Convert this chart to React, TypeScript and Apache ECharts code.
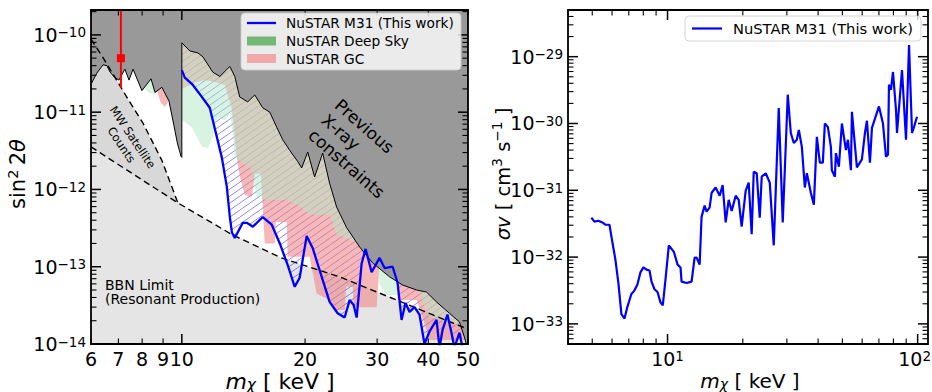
import React, { useEffect, useRef } from 'react';
import * as echarts from 'echarts';

const FONT = 'DejaVu Sans';

// ---------------- Left panel: sin^2(2theta) vs m_chi ----------------
// Previous X-ray constraints (upper boundary of allowed region)
const prevMass = [6.0, 6.2, 6.42, 6.56, 6.68, 6.86, 7.02, 7.26, 7.43, 7.6, 7.99, 8.41, 8.6, 8.94, 9.3, 9.55, 9.75, 9.95, 10.0, 10.0, 10.46, 10.94, 11.26, 11.9, 12.38, 13.1, 13.47, 13.85, 14.49, 15.07, 15.76, 16.4, 17.05, 17.64, 18.35, 19.19, 19.62, 20.3, 21.1, 22.08, 22.96, 23.89, 25.27, 27.18, 29.24, 32.17, 34.61, 37.44, 39.6, 41.89, 45.05, 47.66, 49.0, 49.5, 50];
const prevSin2 = [2.3e-11, 3.2e-11, 4.1e-11, 4.0e-11, 3.3e-11, 2.8e-11, 2.6e-11, 3.6e-11, 2.6e-11, 3.6e-11, 1.9e-11, 2.7e-11, 1.8e-11, 2.1e-11, 1.4e-11, 7.0e-12, 4.0e-12, 2.7e-12, 2.6e-12, 7.9e-11, 6.2e-11, 5.85e-11, 5.2e-11, 3.3e-11, 2.9e-11, 3.9e-11, 2.9e-11, 1.57e-11, 1.36e-11, 1.67e-11, 1.14e-11, 1.0e-11, 6.4e-12, 4.4e-12, 3.2e-12, 2.3e-12, 1.9e-12, 3.05e-12, 1.45e-12, 2.96e-12, 1.2e-12, 5.9e-13, 3.2e-13, 1.8e-13, 1.12e-13, 7.4e-14, 5.8e-14, 5.0e-14, 4.7e-14, 3.5e-14, 2.5e-14, 1.93e-14, 1.23e-14, 1.0e-14, 8e-15];

// MW satellite counts (dashed)
const mwMass = [6.0, 6.43, 6.93, 7.45, 8.04, 8.93, 9.79];
const mwSin2 = [8.8e-11, 5.0e-11, 2.6e-11, 1.37e-11, 7.2e-12, 2.4e-12, 6.6e-13];

// BBN limit (dashed)
const bbnMass = [6.0, 9.78, 13.3, 17.5, 24.3, 48.5, 50];
const bbnSin2 = [3.55e-12, 6.7e-13, 2.58e-13, 1.3e-13, 7.4e-14, 1.66e-14, 1.55e-14];

// NuSTAR Deep Sky (lower edge of excluded region)
const dsMass = [6.0, 7.8, 8.0, 8.12, 8.36, 8.6, 8.7, 8.85, 9.9, 10.0, 10.58, 11.19, 11.58, 11.9, 12.18, 12.73, 13.1, 13.32, 13.47, 14.25, 14.65, 14.91, 15.24, 15.67, 15.94, 18.04, 19.4, 20.52, 22.96, 23.89, 27.18, 30.0, 30.41, 31.5, 33.46, 33.65, 37.44, 38.72, 40.27, 45.05, 50];
const dsSin2 = [1.2e-10, 1.2e-10, 2.6e-11, 2.0e-11, 1.75e-11, 1.75e-11, 2.6e-11, 1.2e-10, 1.2e-10, 8.0e-12, 6.4e-12, 3.6e-12, 3.45e-12, 4.8e-12, 8.4e-12, 7.9e-12, 9.8e-12, 5.0e-12, 2.6e-12, 2.1e-12, 2.0e-12, 1.5e-12, 8.0e-13, 8.5e-13, 7.3e-13, 7.3e-13, 6.0e-13, 4.7e-13, 4.7e-13, 2.6e-13, 2.0e-13, 1.8e-13, 6.0e-14, 4.3e-14, 4.3e-14, 9.0e-14, 7.5e-14, 3.5e-14, 2.2e-14, 1.9e-14, 1.76e-14];

// NuSTAR GC (lower edge of excluded region)
const gcMass = [6.0, 8.45, 8.69, 8.89, 9.09, 9.3, 9.46, 9.6, 9.99, 10.0, 10.76, 11.38, 12.04, 12.73, 13.25, 13.62, 13.85, 14.25, 14.82, 15.1, 15.6, 15.94, 16.87, 16.96, 18.04, 18.14, 20.52, 21.34, 22.96, 23.89, 24.98, 25.2, 26.13, 26.3, 29.92, 30.41, 33.46, 33.65, 37.44, 38.72, 40.27, 50];
const gcSin2 = [1.2e-10, 1.2e-10, 1.9e-11, 1.32e-11, 1.17e-11, 1.44e-11, 4.7e-11, 1.2e-10, 1.2e-10, 2.0e-11, 2.4e-11, 2.6e-11, 2.45e-11, 2.25e-11, 1.1e-11, 2.6e-12, 1.5e-12, 8.5e-13, 8.0e-13, 1.6e-12, 1.6e-12, 2.0e-13, 2.0e-13, 3.8e-13, 3.8e-13, 1.35e-13, 1.35e-13, 4.5e-14, 3.7e-14, 2.75e-14, 2.75e-14, 5.5e-14, 5.5e-14, 3.0e-14, 3.0e-14, 1.1e-13, 1.1e-13, 3.7e-14, 3.7e-14, 2.24e-14, 1.13e-14, 1.13e-14];

// NuSTAR M31 (this work)
const m31Mass = [10.0, 10.17, 10.64, 11.19, 11.7, 12.52, 12.88, 13.1, 13.25, 13.47, 14.09, 14.41, 14.91, 15.76, 16.58, 17.35, 18.14, 18.87, 19.4, 20.18, 20.87, 21.96, 22.96, 24.02, 24.98, 25.7, 26.28, 26.73, 27.49, 28.11, 29.08, 30.41, 31.28, 32.72, 33.65, 34.41, 35.19, 35.99, 37.01, 38.06, 39.15, 40.27, 41.89, 42.6, 43.31, 44.54, 45.56, 46.33, 47.66, 48.47];
const m31Sin2 = [3.5e-11, 2.8e-11, 2.25e-11, 1.58e-11, 1.14e-11, 2.6e-12, 1.08e-12, 4.4e-13, 2.8e-13, 2.36e-13, 3.7e-13, 3.7e-13, 3.3e-13, 4.4e-13, 3.5e-13, 2.0e-13, 1.05e-13, 5.5e-14, 7.2e-14, 2.5e-13, 1.75e-13, 7.4e-14, 3.5e-14, 2.5e-14, 2.2e-14, 3.7e-14, 3.2e-14, 2.2e-14, 1.1e-13, 1.7e-13, 8.5e-14, 1.3e-13, 9.6e-14, 1.0e-13, 6.2e-14, 2.05e-14, 3.4e-14, 2.6e-14, 3.0e-14, 2.4e-14, 1.0e-14, 1.45e-14, 2.05e-14, 9e-15, 1.5e-14, 2.4e-14, 1.4e-14, 9e-15, 1.4e-14, 9e-15];

// Red data point with error bar
const redPointMass = [7.1];
const redPointSin2 = [5.0e-11];
const redErrLow = [2.06e-11];
const redErrHigh = [1e-9];

// ---------------- Right panel: sigma v vs m_chi ----------------
const svMass = [4.96, 5.10, 5.29, 5.49, 5.64, 5.86, 5.97, 6.19, 6.36, 6.54, 6.73, 6.91, 7.17, 7.37, 7.58, 7.79, 8.01, 8.24, 8.47, 8.63, 8.87, 9.12, 9.37, 9.57, 9.66, 9.84, 10.12, 10.6, 10.97, 11.27, 11.38, 11.92, 12.48, 12.83, 13.07, 13.44, 13.68, 14.07, 14.33, 14.73, 15.01, 15.57, 16.16, 16.61, 17.08, 17.56, 18.05, 18.73, 19.25, 19.79, 20.53, 21.11, 21.7, 22.11, 22.73, 23.37, 23.8, 24.7, 25.63, 26.59, 27.84, 28.88, 30.25, 31.11, 31.98, 32.88, 33.49, 34.43, 35.39, 36.06, 37.41, 38.46, 39.54, 40.64, 41.78, 42.56, 43.75, 44.98, 45.39, 46.69, 47.12, 48.43, 49.79, 51.66, 52.63, 54.1, 54.6, 57.17, 59.86, 61.55, 62.7, 64.46, 65.66, 70.04, 72.67, 74.7, 76.1, 76.8, 78.23, 79.69, 81.93, 82.69, 86.58, 89.85, 92.37, 94.97, 96.74, 99.45];
const svValue = [3.9e-32, 3.4e-32, 3.5e-32, 3.3e-32, 3.05e-32, 3.05e-32, 2.0e-32, 9.1e-33, 4.1e-33, 1.4e-33, 1.2e-33, 1.8e-33, 2.8e-33, 3.15e-33, 3.9e-33, 5.9e-33, 7.0e-33, 6.5e-33, 6.3e-33, 4.3e-33, 3.3e-33, 3.0e-33, 2.1e-33, 1.9e-33, 2.6e-33, 5.1e-33, 1.5e-32, 1.2e-32, 7.7e-33, 7.0e-33, 4.3e-33, 4.1e-33, 4.3e-33, 9.8e-33, 9.8e-33, 7.7e-33, 4.0e-32, 5.9e-32, 4.8e-32, 5.5e-32, 9.2e-32, 1.1e-31, 8.3e-32, 1.2e-31, 3.3e-32, 7.2e-32, 4.9e-32, 8.3e-32, 7.2e-32, 2.85e-32, 9.8e-32, 1.3e-31, 2.2e-32, 1.9e-31, 1.8e-31, 3.9e-32, 1.6e-31, 1.8e-31, 1.3e-31, 1.5e-32, 1.7e-30, 3.3e-32, 2.7e-30, 7.2e-31, 5.1e-31, 5.7e-31, 8.0e-31, 4.5e-31, 1.1e-31, 1.8e-31, 9.2e-32, 6.1e-32, 6.3e-31, 2.6e-31, 2.6e-31, 1.0e-30, 8.9e-31, 4.5e-31, 2.0e-31, 1.6e-31, 3.6e-31, 2.25e-31, 1.0e-30, 4.0e-31, 5.7e-31, 2.0e-31, 1.5e-30, 2.2e-31, 2.9e-31, 7.2e-31, 1.1e-30, 2.6e-31, 8.6e-31, 1.8e-30, 1.0e-30, 3.2e-31, 3.4e-31, 3.8e-30, 3.2e-30, 5.9e-30, 1.6e-30, 7.2e-31, 6.3e-30, 5.7e-31, 1.5e-29, 7.2e-31, 8.9e-31, 1.26e-30];

// ---------------- Axes ----------------
const leftXRange = [6, 50];
const leftYRange = [1e-14, 2.1e-10];
const rightXRange = [4, 110];
const rightYRange = [5e-34, 5e-29];

const minorMultipliers = [2, 3, 4, 5, 6, 7, 8, 9];

const leftXMajor = [10];
const leftXMinor = [6, 7, 8, 9, 20, 30, 40, 50];
const leftXLabelValues = [6, 7, 8, 9, 10, 20, 30, 40, 50];
const leftXLabels = ['6', '7', '8', '9', '10', '20', '30', '40', '50'];
const leftYDecades = [1e-14, 1e-13, 1e-12, 1e-11, 1e-10];
const leftYMajor = [1e-14, 1e-13, 1e-12, 1e-11, 1e-10];
const leftYLabelExps = ['\u221214', '\u221213', '\u221212', '\u221211', '\u221210'];

const rightXMajor = [10, 100];
const rightXMinor = [4, 5, 6, 7, 8, 9, 20, 30, 40, 50, 60, 70, 80, 90];
const rightXLabelValues = [10, 100];
const rightXLabelExps = ['1', '2'];
const rightYDecades = [1e-34, 1e-33, 1e-32, 1e-31, 1e-30, 1e-29];
const rightYMajor = [1e-33, 1e-32, 1e-31, 1e-30, 1e-29];
const rightYLabelExps = ['\u221233', '\u221232', '\u221231', '\u221230', '\u221229'];

const zip = (a: number[], b: number[]) => a.map((v, i) => [v, b[i]]);

function minorsFor(decades: number[], range: number[]) {
  const out: number[] = [];
  decades.forEach((d) => minorMultipliers.forEach((k) => {
    const v = k * d;
    if (v >= range[0] * 0.999 && v <= range[1] * 1.001) out.push(v);
  }));
  return out;
}

const tickRich = {
  b: { fontFamily: FONT, fontSize: 19, lineHeight: 19, verticalAlign: 'bottom', fill: '#000' },
  s: { fontFamily: FONT, fontSize: 13.5, lineHeight: 11, verticalAlign: 'top', fill: '#000' },
};

function titleRich(F: number, H: number) {
  return {
    n: { fontFamily: FONT, fontSize: F, lineHeight: H, verticalAlign: 'middle', fill: '#000' },
    i: { fontFamily: FONT, fontSize: F, fontStyle: 'italic', lineHeight: H, verticalAlign: 'middle', fill: '#000' },
    sup: { fontFamily: FONT, fontSize: F * 0.7, lineHeight: F * 0.7, verticalAlign: 'top', padding: [F * 0.05, 0, 0, 0], fill: '#000' },
    sub: { fontFamily: FONT, fontSize: F * 0.7, fontStyle: 'italic', lineHeight: F * 0.7, verticalAlign: 'bottom', fill: '#000' },
  };
}

const MAJOR_LEN = 10;
const MINOR_LEN = 5.5;

function axisItems(cfg: any) {
  const items: number[][] = [];
  cfg.xMajor.forEach((v: number) => items.push([v, cfg.yMin, 0, 0]));
  cfg.xMinor.forEach((v: number) => items.push([v, cfg.yMin, 1, 0]));
  cfg.yMajor.forEach((v: number) => items.push([cfg.xMin, v, 2, 0]));
  cfg.yMinor.forEach((v: number) => items.push([cfg.xMin, v, 3, 0]));
  items.push([cfg.xMin, cfg.yMin, 4, 0]);
  cfg.xLabelValues.forEach((v: number, i: number) => items.push([v, cfg.yMin, cfg.xLabelKind, i]));
  cfg.yMajor.forEach((v: number, i: number) => items.push([cfg.xMin, v, 7, i]));
  return items;
}

function makeAxisRender(xText: string[] | null, xExp: string[] | null, yExp: string[]) {
  return function (params: any, api: any) {
    const cs = params.coordSys;
    const kind = api.value(2);
    const idx = api.value(3);
    const left = cs.x, top = cs.y, right = cs.x + cs.width, bottom = cs.y + cs.height;
    const stroke = '#000';
    if (kind === 0 || kind === 1) {
      const px = api.coord([api.value(0), api.value(1)])[0];
      const len = kind === 0 ? MAJOR_LEN : MINOR_LEN;
      const lw = kind === 0 ? 1.5 : 1.1;
      return {
        type: 'group', children: [
          { type: 'line', shape: { x1: px, y1: bottom, x2: px, y2: bottom - len }, style: { stroke, lineWidth: lw } },
          { type: 'line', shape: { x1: px, y1: top, x2: px, y2: top + len }, style: { stroke, lineWidth: lw } },
        ],
      };
    }
    if (kind === 2 || kind === 3) {
      const py = api.coord([api.value(0), api.value(1)])[1];
      const len = kind === 2 ? MAJOR_LEN : MINOR_LEN;
      const lw = kind === 2 ? 1.5 : 1.1;
      return {
        type: 'group', children: [
          { type: 'line', shape: { x1: left, y1: py, x2: left + len, y2: py }, style: { stroke, lineWidth: lw } },
          { type: 'line', shape: { x1: right, y1: py, x2: right - len, y2: py }, style: { stroke, lineWidth: lw } },
        ],
      };
    }
    if (kind === 4) {
      return { type: 'rect', shape: { x: left, y: top, width: cs.width, height: cs.height }, style: { fill: 'none', stroke: '#000', lineWidth: 1.8 } };
    }
    if (kind === 5 && xText) {
      const px = api.coord([api.value(0), api.value(1)])[0];
      return { type: 'text', x: px, y: bottom + 6, style: { text: xText[idx], fontFamily: FONT, fontSize: 19, lineHeight: 17, fill: '#000', align: 'center', verticalAlign: 'top' } };
    }
    if (kind === 6 && xExp) {
      const px = api.coord([api.value(0), api.value(1)])[0];
      const nearEdge = px + 16 > 931;
      return { type: 'text', x: nearEdge ? 931 : px, y: bottom + 5, style: { text: '{b|10}{s|' + xExp[idx] + '}', rich: tickRich, align: nearEdge ? 'right' : 'center', verticalAlign: 'top' } };
    }
    if (kind === 7) {
      const py = api.coord([api.value(0), api.value(1)])[1];
      return { type: 'text', x: left - 5, y: py, style: { text: '{b|10}{s|' + yExp[idx] + '}', rich: tickRich, align: 'right', verticalAlign: 'middle' } };
    }
    return null;
  };
}

function makeHatch() {
  const w = 10, h = 7;
  const c = document.createElement('canvas');
  c.width = w; c.height = h;
  const ctx = c.getContext('2d')!;
  ctx.strokeStyle = 'rgba(40,40,255,0.55)';
  ctx.lineWidth = 1;
  ctx.beginPath();
  [-w, 0, w].forEach((dx) => { ctx.moveTo(dx, h); ctx.lineTo(dx + w, 0); });
  ctx.stroke();
  return { image: c, repeat: 'repeat', imageWidth: w, imageHeight: h };
}

function buildOption() {
  const base = { type: 'line', showSymbol: false, symbol: 'none', silent: true, clip: true, xAxisIndex: 0, yAxisIndex: 0 };
  const noLine = { width: 0, opacity: 0 };
  const leftAxis = axisItems({
    xMajor: leftXMajor, xMinor: leftXMinor,
    yMajor: leftYMajor, yMinor: minorsFor(leftYDecades, leftYRange),
    xMin: leftXRange[0], yMin: leftYRange[0], xLabelValues: leftXLabelValues, xLabelKind: 5,
  });
  const rightAxis = axisItems({
    xMajor: rightXMajor, xMinor: rightXMinor,
    yMajor: rightYMajor, yMinor: minorsFor(rightYDecades, rightYRange),
    xMin: rightXRange[0], yMin: rightYRange[0], xLabelValues: rightXLabelValues, xLabelKind: 6,
  });

  const series: any[] = [
    { ...base, name: 'MW fill', data: zip(mwMass, mwSin2), lineStyle: noLine, areaStyle: { color: '#d8d8d8', opacity: 1, origin: 'start' } },
    { ...base, name: 'BBN fill', data: zip(bbnMass, bbnSin2), lineStyle: noLine, areaStyle: { color: '#e5e5e5', opacity: 1, origin: 'start' } },
    { ...base, name: 'M31 hatch', data: zip(m31Mass, m31Sin2), lineStyle: noLine, areaStyle: { color: makeHatch(), opacity: 1, origin: 'end' } },
    { ...base, name: 'NuSTAR GC', data: zip(gcMass, gcSin2), lineStyle: noLine, areaStyle: { color: 'rgba(240,128,128,0.56)', opacity: 1, origin: 'end' } },
    { ...base, name: 'NuSTAR Deep Sky', data: zip(dsMass, dsSin2), lineStyle: noLine, areaStyle: { color: 'rgba(177,231,195,0.5)', opacity: 1, origin: 'end' } },
    { ...base, name: 'Previous', data: zip(prevMass, prevSin2), lineStyle: { color: '#000', width: 1 }, areaStyle: { color: '#999999', opacity: 1, origin: 'end' } },
    { ...base, name: 'MW line', data: zip(mwMass, mwSin2), lineStyle: { color: '#000', width: 1.4, type: [6.5, 4] } },
    { ...base, name: 'BBN line', data: zip(bbnMass, bbnSin2), lineStyle: { color: '#000', width: 1.4, type: [6.5, 4] } },
    { ...base, name: 'NuSTAR M31 (This work)', data: zip(m31Mass, m31Sin2), lineStyle: { color: '#0000ff', width: 2.3 } },
    { ...base, name: 'err', z: 4, data: [[redPointMass[0], redErrLow[0]], [redPointMass[0], redErrHigh[0]]], lineStyle: { color: '#ff0000', width: 2 } },
    { ...base, name: 'point', z: 5, showSymbol: true, symbol: 'rect', symbolSize: 8, data: zip(redPointMass, redPointSin2), lineStyle: { width: 0 }, itemStyle: { color: '#ff0000', borderWidth: 0 } },
    { type: 'custom', name: 'axisL', xAxisIndex: 0, yAxisIndex: 0, silent: true, clip: false, z: 10, encode: { x: 0, y: 1 }, data: leftAxis, renderItem: makeAxisRender(leftXLabels, null, leftYLabelExps) },
    { ...base, xAxisIndex: 1, yAxisIndex: 1, name: 'sv', data: zip(svMass, svValue), lineStyle: { color: '#0000ff', width: 2.2 } },
    { type: 'custom', name: 'axisR', xAxisIndex: 1, yAxisIndex: 1, silent: true, clip: false, z: 10, encode: { x: 0, y: 1 }, data: rightAxis, renderItem: makeAxisRender(null, rightXLabelExps, rightYLabelExps) },
  ];

  const txt = (x: number, y: number, text: string, size: number, extra: any = {}) => ({
    type: 'text', x, y, z: 100, silent: true,
    style: { text, fontFamily: FONT, fontSize: size, fill: '#000', align: 'left', verticalAlign: 'middle', ...extra },
  });

  const graphics: any[] = [
    // Left legend
    { type: 'rect', z: 100, silent: true, shape: { x: 241, y: 13, width: 220, height: 57, r: 4 }, style: { fill: 'rgba(255,255,255,0.8)', stroke: 'rgba(204,204,204,0.8)', lineWidth: 1 } },
    { type: 'line', z: 100, silent: true, shape: { x1: 247, y1: 23, x2: 276, y2: 23 }, style: { stroke: '#0000ff', lineWidth: 2.3 } },
    { type: 'rect', z: 100, silent: true, shape: { x: 247, y: 36.5, width: 29, height: 9 }, style: { fill: '#76b776' } },
    { type: 'rect', z: 100, silent: true, shape: { x: 247, y: 54, width: 29, height: 9 }, style: { fill: '#f0a8a8' } },
    txt(286, 23, 'NuSTAR M31 (This work)', 13.7),
    txt(286, 41, 'NuSTAR Deep Sky', 13.7),
    txt(286, 58.5, 'NuSTAR GC', 13.7),
    // Right legend
    { type: 'rect', z: 100, silent: true, shape: { x: 685, y: 16, width: 236, height: 25, r: 4 }, style: { fill: 'rgba(255,255,255,0.8)', stroke: '#d6d6d6', lineWidth: 1 } },
    { type: 'line', z: 100, silent: true, shape: { x1: 692, y1: 28.5, x2: 722, y2: 28.5 }, style: { stroke: '#0000ff', lineWidth: 2.2 } },
    txt(733, 28.5, 'NuSTAR M31 (This work)', 14.7),
    // Annotations
    { type: 'text', x: 344, y: 95, rotation: -0.72, z: 100, silent: true, style: { text: 'Previous\nX-ray\nconstraints', fontFamily: FONT, fontSize: 17, lineHeight: 20, fill: '#000', align: 'left', verticalAlign: 'top' } },
    { type: 'text', x: 127, y: 141, rotation: -0.98, z: 100, silent: true, style: { text: 'MW Satellite\nCounts', fontFamily: FONT, fontSize: 11.5, lineHeight: 13.5, fill: '#000', align: 'center', verticalAlign: 'middle' } },
    txt(105, 291.7, 'BBN Limit\n(Resonant Production)', 14, { lineHeight: 14.2 }),
    // Axis titles
    { type: 'text', x: 280, y: 381, z: 100, silent: true, style: { text: '{i|m}{sub|\u03c7}{n| [ keV ]}', rich: titleRich(22, 22), align: 'center', verticalAlign: 'middle' } },
    { type: 'text', x: 750, y: 381, z: 100, silent: true, style: { text: '{i|m}{sub|\u03c7}{n| [ keV ]}', rich: titleRich(20, 20), align: 'center', verticalAlign: 'middle' } },
    { type: 'text', x: 18, y: 174, rotation: Math.PI / 2, z: 100, silent: true, style: { text: '{n|sin}{sup|2}{n|\u20092}{i|\u03b8}', rich: titleRich(21, 29), align: 'center', verticalAlign: 'middle' } },
    { type: 'text', x: 503, y: 174, rotation: Math.PI / 2, z: 100, silent: true, style: { text: '{i|\u03c3v}{n| [ cm}{sup|3}{n| s}{sup|\u22121}{n| ]}', rich: titleRich(19.5, 27), align: 'center', verticalAlign: 'middle' } },
  ];

  return {
    animation: false,
    backgroundColor: '#ffffff',
    textStyle: { fontFamily: FONT },
    grid: [
      { left: 91, top: 10, width: 377, height: 334, show: true, backgroundColor: '#ffffff', borderWidth: 0 },
      { left: 568, top: 10, width: 360, height: 334, show: true, backgroundColor: '#ffffff', borderWidth: 0 },
    ],
    xAxis: [
      { type: 'log', logBase: 10, min: leftXRange[0], max: leftXRange[1], gridIndex: 0, show: false },
      { type: 'log', logBase: 10, min: rightXRange[0], max: rightXRange[1], gridIndex: 1, show: false },
    ],
    yAxis: [
      { type: 'log', logBase: 10, min: leftYRange[0], max: leftYRange[1], gridIndex: 0, show: false },
      { type: 'log', logBase: 10, min: rightYRange[0], max: rightYRange[1], gridIndex: 1, show: false },
    ],
    series,
    graphic: { elements: graphics },
  };
}

export default function App() {
  const ref = useRef<HTMLDivElement>(null);
  useEffect(() => {
    const chart = echarts.init(ref.current!, null, { renderer: 'svg' });
    chart.setOption(buildOption() as any);
    return () => chart.dispose();
  }, []);
  return <div ref={ref} style={{ position: 'fixed', left: 0, top: 0, width: 932, height: 392, background: '#fff' }} />;
}
